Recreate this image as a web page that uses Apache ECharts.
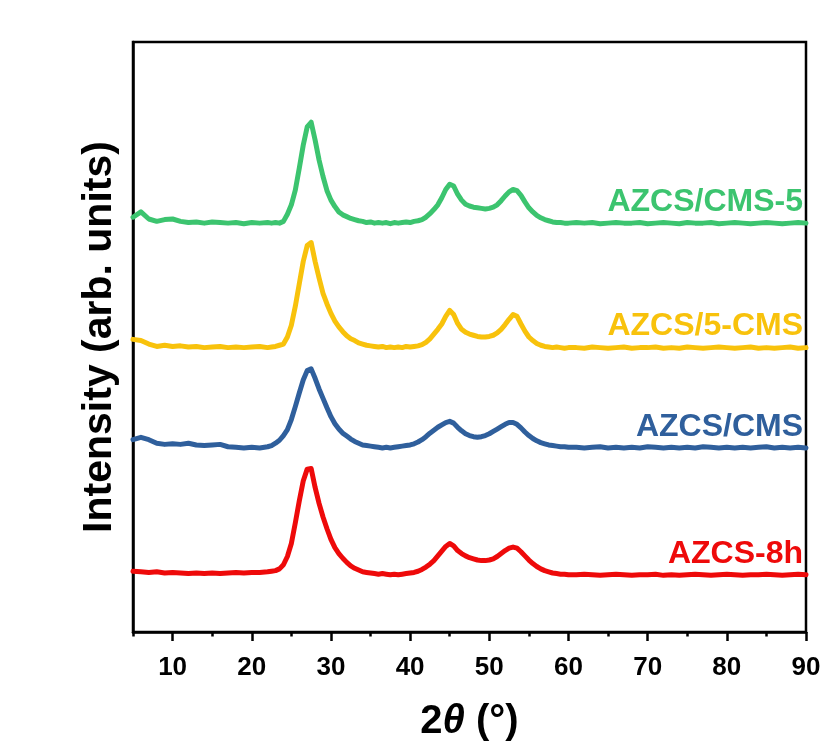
<!DOCTYPE html>
<html>
<head>
<meta charset="utf-8">
<script src="https://cdn.jsdelivr.net/npm/echarts@6/dist/echarts.min.js"></script>
<style>html,body{margin:0;padding:0;background:#fff;}#c{width:831px;height:751px;}</style>
</head>
<body>
<div id="c"></div>
<script>
const twoTheta = [5,6,7,8,9,10,11,12,13,14,15,16,17,18,19,20,21,22,
22.5,23,23.5,24,24.5,25,25.5,26,26.5,27,27.5,28,28.5,29,29.5,30,30.5,31,31.5,32,32.5,33,33.5,34,34.5,35,35.5,36,36.5,37,37.5,38,38.5,39,39.5,40,
40.5,41,41.5,42,42.5,43,43.5,44,44.5,45,45.5,46,46.5,47,47.5,48,48.5,49,49.5,50,50.5,51,51.5,52,52.5,53,53.5,54,54.5,55,55.5,56,56.5,57,57.5,58,58.5,59,59.5,60,
61,62,63,64,65,66,67,68,69,70,71,72,73,74,75,76,77,78,79,80,81,82,83,84,85,86,87,88,89,90];

const azcsCms5 = [703,712,700,696,699,700,696,694,695,693,695,694,693,694,692,694,693,694,
693,694,693,696,708,724,749,786,825,856,864,834,800,772,748,732,721,712,707,704,701,699,697,696,694,695,693,694,693,694,692,694,693,694,695,694,
696,697,699,703,709,716,724,736,750,759,756,742,732,725,722,720,719,718,717,718,720,724,731,739,746,750,748,740,729,719,712,706,702,699,697,695,694,694,693,693,
694,693,694,692,693,694,693,693,694,692,693,694,693,692,694,693,693,694,692,693,694,693,692,693,694,693,692,693,694,693];

const azcs5Cms = [496,494,488,484,486,484,485,483,484,482,483,484,482,483,482,483,484,482,
483,484,486,488,500,520,552,590,628,655,660,628,600,574,556,540,527,517,509,502,497,494,490,488,486,485,484,483,484,482,483,482,483,482,484,483,
484,485,487,491,497,505,513,522,535,545,538,523,513,508,505,503,501,500,500,501,503,507,513,521,530,538,535,522,510,500,494,489,486,484,483,482,483,482,481,482,
482,481,483,482,481,482,483,481,482,482,483,481,482,481,483,482,481,482,483,482,481,482,483,481,482,481,482,483,481,482];

const azcsCms = [326,330,326,320,318,319,318,320,317,316,317,318,314,313,312,313,312,314,
316,320,325,333,343,360,382,405,427,443,446,430,412,396,380,365,353,344,337,332,327,323,320,317,316,315,314,313,312,313,312,313,314,315,316,317,
319,322,326,331,337,342,347,351,355,357,354,347,341,336,333,331,330,331,333,336,340,344,348,352,355,355,352,346,339,333,328,324,321,319,317,316,315,314,314,313,
313,312,313,314,312,313,312,313,312,314,313,312,313,312,313,312,314,313,312,313,312,313,312,313,314,312,313,312,313,312];

const azcs8h = [103,102,101,102,100,101,100,99,100,99,100,99,100,101,100,101,101,102,
103,104,107,114,128,150,185,222,256,276,277,245,218,195,175,157,143,133,125,118,112,108,105,102,101,100,99,98,99,98,97,98,97,98,99,100,
101,103,106,110,115,121,129,137,145,150,146,138,133,129,126,124,122,121,121,122,124,128,133,138,142,144,142,136,129,122,116,111,107,104,102,100,99,98,98,97,
97,98,97,96,97,98,97,96,97,97,98,96,97,96,97,98,97,96,97,98,97,96,97,97,98,97,96,97,98,97];

const seriesNames = ['AZCS/CMS-5','AZCS/5-CMS','AZCS/CMS','AZCS-8h'];
const seriesColors = ['#3cc46f','#f8c20c','#2f5f9c','#ee0a0a'];
const seriesValues = [azcsCms5, azcs5Cms, azcsCms, azcs8h];
const majorTicks = [10,20,30,40,50,60,70,80,90];
const minorTicks = [5,15,25,35,45,55,65,75,85];

const FONT = '"Liberation Sans", Arial, sans-serif';
const chart = echarts.init(document.getElementById('c'), null, {renderer:'canvas'});

const series = seriesValues.map((vals, i) => ({
  name: seriesNames[i],
  type: 'line',
  xAxisIndex: 0,
  data: twoTheta.map((x, k) => [x, vals[k]]),
  showSymbol: false,
  lineStyle: {color: seriesColors[i], width: 5, join: 'round', cap: 'round'},
  itemStyle: {color: seriesColors[i]},
  endLabel: {
    show: true,
    formatter: seriesNames[i],
    color: seriesColors[i],
    fontFamily: FONT,
    fontWeight: 'bold',
    fontSize: 32,
    align: 'right',
    verticalAlign: 'bottom',
    offset: [-11, -5]
  },
  animation: false,
  z: 4 - i
}));

chart.setOption({
  animation: false,
  grid: {left: 133, right: 25, top: 42, bottom: 119, show: true, borderColor: '#000', borderWidth: 2.5, backgroundColor: 'transparent'},
  xAxis: [{
    type: 'value', min: 5, max: 90,
    name: '{b|2}{bi|θ}{b| (°)}',
    nameLocation: 'middle', nameGap: 70,
    nameTextStyle: {rich: {
      b: {fontFamily: FONT, fontWeight: 'bold', fontSize: 40, color: '#000'},
      bi: {fontFamily: FONT, fontWeight: 'bold', fontStyle: 'italic', fontSize: 40, color: '#000'}
    }},
    axisLine: {show: true, onZero: false, lineStyle: {color: '#000', width: 2.5}},
    axisTick: {show: true, inside: false, length: 9, lineStyle: {color: '#000', width: 2.5}, customValues: majorTicks},
    axisLabel: {show: true, customValues: majorTicks, color: '#000', fontFamily: FONT, fontWeight: 'bold', fontSize: 26, margin: 23},
    splitLine: {show: false}
  }, {
    type: 'value', min: 5, max: 90, position: 'bottom',
    axisLine: {show: false},
    axisTick: {show: true, inside: false, length: 4.5, lineStyle: {color: '#000', width: 2.5}, customValues: minorTicks},
    axisLabel: {show: false},
    splitLine: {show: false}
  }],
  yAxis: {
    type: 'value', min: 0, max: 1000,
    name: 'Intensity (arb. units)',
    nameLocation: 'middle', nameGap: 13,
    nameTextStyle: {fontFamily: FONT, fontWeight: 'bold', fontSize: 41, color: '#000'},
    axisLine: {show: true, lineStyle: {color: '#000', width: 2.5}},
    axisTick: {show: false},
    axisLabel: {show: false},
    splitLine: {show: false}
  },
  series: series
});
</script>
</body>
</html>
